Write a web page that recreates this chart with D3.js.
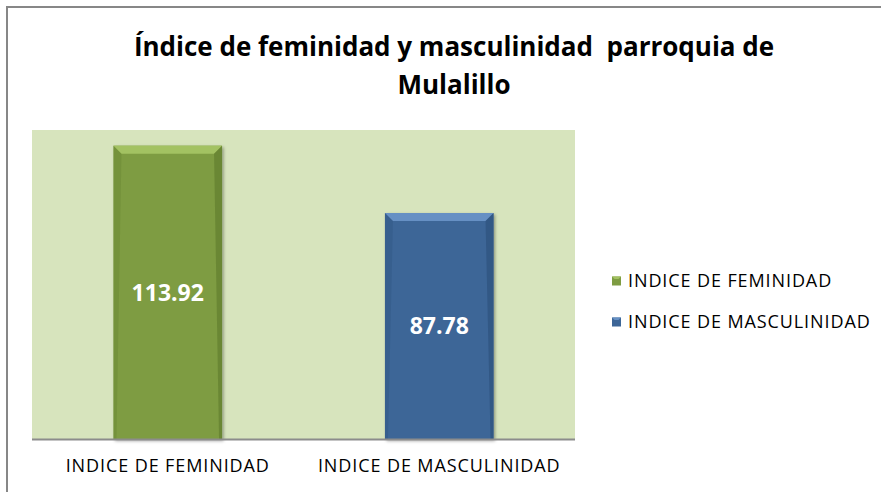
<!DOCTYPE html>
<html>
<head>
<meta charset="utf-8">
<script src="https://cdn.jsdelivr.net/npm/d3@7"></script>
<style>
  html, body { margin: 0; background: #ffffff; overflow: hidden; }
  svg { display: block; }
  text { font-family: "Open Sans", "DejaVu Sans", sans-serif; }
</style>
</head>
<body>
<div id="chart"></div>
<script>

const categories = ["INDICE DE FEMINIDAD", "INDICE DE MASCULINIDAD"];
const values = [113.92, 87.78];
const value_labels = ["113.92", "87.78"];
const title_lines = ["Índice de feminidad y masculinidad  parroquia de", "Mulalillo"];

const W = 881;
const H = 492;

const PLOT_X0 = 32;
const PLOT_X1 = 575;
const PLOT_Y0 = 130;
const PLOT_Y1 = 439.5;

const COLOR_PLOT_BG = "#d7e4bd";
const COLOR_BARS = ["#7e9c42", "#3d6697"];
const COLOR_BARS_LIGHT = ["#a3c262", "#6690c4"];
const COLOR_BARS_DARK = ["#5e7a2c", "#2b4e79"];
const BEVEL = 8;

// -------------------------------------------------

let svg = d3.select("#chart")
            .append("svg")
                .attr("width", W)
                .attr("height", H);

// outer frame (only top/left edges are in view)
svg.append("path")
        .attr("d", "M7," + H + "V7H" + W)
        .attr("fill", "none")
        .attr("stroke", "#878787")
        .attr("stroke-width", 2)

// title
svg.selectAll("text.title")
        .data(title_lines)
        .enter()
        .append("text")
            .attr("class", "title")
            .attr("x", 454)
            .attr("y", (d, i) => 56 + i * 38)
            .attr("text-anchor", "middle")
            .attr("font-size", "26px")
            .attr("font-weight", "bold")
            .attr("fill", "#000000")
            .style("white-space", "pre")
            .text(d => d)

// -------------------------------------------------

let x = d3.scaleBand()
            .domain(categories)
            .range([PLOT_X0, PLOT_X1])
            .paddingInner(0.6)
            .paddingOuter(0.3);

let y = d3.scaleLinear()
            .domain([0, 120])
            .range([PLOT_Y1, PLOT_Y0]);

svg.append("rect")
        .attr("x", PLOT_X0)
        .attr("y", y(120))
        .attr("width", PLOT_X1 - PLOT_X0)
        .attr("height", y(0) - y(120))
        .attr("fill", COLOR_PLOT_BG)

let defs = svg.append("defs");
defs.append("filter")
        .attr("id", "shadow")
        .attr("x", "-10%").attr("y", "-10%")
        .attr("width", "130%").attr("height", "120%")
    .append("feDropShadow")
        .attr("dx", 1.5)
        .attr("dy", 1.5)
        .attr("stdDeviation", 1.5)
        .attr("flood-color", "#000000")
        .attr("flood-opacity", 0.35)

let bars = svg.selectAll("g.bar")
        .data(values)
        .enter()
        .append("g")
            .attr("class", "bar")

bars.append("rect")
        .attr("x", (d, i) => x(categories[i]))
        .attr("y", d => y(d))
        .attr("width", x.bandwidth())
        .attr("height", d => y(0) - y(d))
        .attr("fill", (d, i) => COLOR_BARS[i])
        .attr("filter", "url(#shadow)")

// bevel: top light trapezoid, side strips
bars.append("path")
        .attr("d", (d, i) => {
            let x0 = x(categories[i]), x1 = x0 + x.bandwidth(), t = y(d);
            return "M" + x0 + "," + t + "L" + x1 + "," + t +
                   "L" + (x1 - BEVEL) + "," + (t + BEVEL) + "L" + (x0 + BEVEL) + "," + (t + BEVEL) + "Z";
        })
        .attr("fill", (d, i) => COLOR_BARS_LIGHT[i])

bars.append("path")
        .attr("d", (d, i) => {
            let x1 = x(categories[i]) + x.bandwidth(), t = y(d), b = y(0);
            return "M" + x1 + "," + t + "L" + (x1 - BEVEL) + "," + (t + BEVEL) +
                   "L" + (x1 - 3) + "," + b + "L" + x1 + "," + b + "Z";
        })
        .attr("fill", (d, i) => COLOR_BARS_DARK[i])
        .attr("opacity", 0.6)

bars.append("path")
        .attr("d", (d, i) => {
            let x0 = x(categories[i]), t = y(d), b = y(0);
            return "M" + x0 + "," + t + "L" + (x0 + BEVEL) + "," + (t + BEVEL) +
                   "L" + (x0 + 3) + "," + b + "L" + x0 + "," + b + "Z";
        })
        .attr("fill", (d, i) => COLOR_BARS_DARK[i])
        .attr("opacity", 0.3)

// value labels
bars.append("text")
        .attr("x", (d, i) => x(categories[i]) + x.bandwidth() / 2)
        .attr("y", d => (y(d) + y(0)) / 2)
        .attr("dy", "0.35em")
        .attr("text-anchor", "middle")
        .attr("font-size", "23px")
        .attr("font-weight", "bold")
        .attr("fill", "#ffffff")
        .text((d, i) => value_labels[i])

// axis
let xAxis = svg.append("g")
        .attr("transform", "translate(0," + PLOT_Y1 + ")")
        .call(d3.axisBottom(x).tickSize(0).tickPadding(20))

xAxis.select(".domain")
        .attr("stroke", "#8c8c8c")
        .attr("stroke-width", 2)
        .attr("d", "M" + PLOT_X0 + ",0H" + PLOT_X1)

xAxis.selectAll("text")
        .attr("font-size", "18px")
        .attr("letter-spacing", "0.9px")
        .attr("font-family", "'Open Sans', sans-serif")
        .attr("fill", "#000000")

// -------------------------------------------------
// legend

let legend = svg.selectAll("g.legend")
        .data(categories)
        .enter()
        .append("g")
            .attr("class", "legend")
            .attr("transform", (d, i) => "translate(612," + (281 + i * 41) + ")")

legend.append("rect")
        .attr("x", 0)
        .attr("y", -4.5)
        .attr("width", 9)
        .attr("height", 9)
        .attr("fill", (d, i) => COLOR_BARS[i])

legend.append("path")
        .attr("d", "M0,-4.5L9,-4.5L6.5,-2L2.5,-2Z")
        .attr("fill", (d, i) => COLOR_BARS_LIGHT[i])

legend.append("text")
        .attr("x", 16)
        .attr("y", 0)
        .attr("dy", "0.35em")
        .attr("font-size", "18px")
        .attr("letter-spacing", "0.9px")
        .attr("fill", "#000000")
        .text(d => d)

</script>
</body>
</html>
